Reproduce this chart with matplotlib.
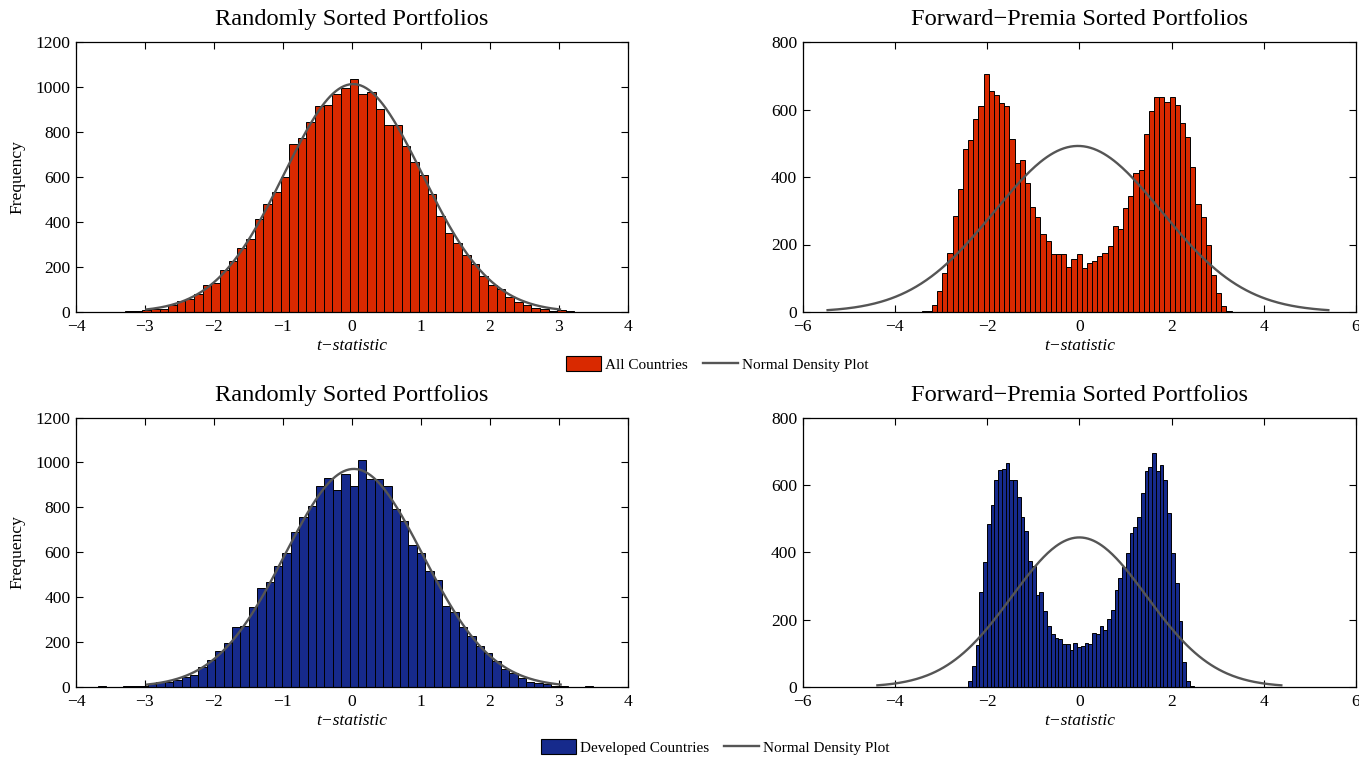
import numpy as np
import matplotlib
matplotlib.use("Agg")
import matplotlib.pyplot as plt
from matplotlib.patches import Patch
from matplotlib.lines import Line2D

plt.rcParams['font.family'] = ['Liberation Serif', 'DejaVu Serif']
plt.rcParams['mathtext.fontset'] = 'stix'

# ---------------- data ----------------
# Top-left: All countries, randomly sorted portfolios
tl_first_edge = -3.917
tl_bin_width = 0.1254
tl_counts = [1, 0, 1, 1, 2, 3,
             6, 7, 12, 15, 33, 50, 59, 81, 119, 130, 188, 228, 286, 323, 412, 479, 533, 600,
             745, 775, 844, 914, 919, 967, 997,
             1037, 970, 978, 904, 833, 833, 736, 668, 610, 526, 428, 353, 307, 252, 213, 160,
             119, 101, 67, 44, 30, 18, 12, 6, 10, 3, 1,
             1, 1, 0]
tl_norm = dict(mu=0.02, sigma=1.0, peak=1013)

# Top-right: All countries, forward-premia sorted portfolios
tr_first_edge = -3.42
tr_bin_width = 0.112
tr_counts = [2, 4, 20, 61, 115, 174, 283, 363, 484, 510, 573, 610, 706, 654, 644, 618, 610, 514,
             442, 450, 383, 311, 281, 232, 211, 173, 173, 172, 133, 158, 171,
             130, 145, 150, 165, 175, 196, 254, 245, 309, 345, 413, 420, 526, 597, 638, 638, 622,
             636, 614, 559, 520, 431, 321, 282, 200, 109, 56, 17, 4]
tr_norm = dict(mu=-0.03, sigma=1.81, peak=492)

# Bottom-left: Developed countries, randomly sorted portfolios
bl_first_edge = -3.807
bl_bin_width = 0.1218
bl_counts = [1, 3, 0, 0, 4, 4, 6, 12, 24, 22, 33, 45, 52, 89, 119, 161, 194, 265, 271, 358,
             439, 466, 539, 596, 688, 757, 807, 897, 931, 876, 950,
             894, 1011, 924, 924, 894, 792, 740, 633, 596, 517, 477, 360, 332, 267, 226, 183,
             153, 116, 80, 64, 40, 24, 19, 12, 6, 4, 1, 0, 3]
bl_norm = dict(mu=0.03, sigma=1.0, peak=971)

# Bottom-right: Developed countries, forward-premia sorted portfolios
br_first_edge = -2.413
br_bin_width = 0.0815
br_counts = [17, 61, 126, 281, 372, 484, 541, 613, 643, 646, 666, 615, 614, 563, 504, 464, 373,
             360, 274, 281, 227, 182, 158, 145, 142, 129, 129, 109, 130, 118,
             123, 130, 128, 160, 157, 180, 168, 203, 229, 289, 323, 356, 399, 457, 476, 506,
             575, 640, 652, 696, 641, 659, 613, 516, 399, 310, 196, 74, 17, 4]
br_norm = dict(mu=0.0, sigma=1.46, peak=444)

title_left = "Randomly Sorted Portfolios"
title_right = "Forward\u2212Premia Sorted Portfolios"
xlabel = "t\u2212statistic"
ylabel = "Frequency"
legend_top = ["All Countries", "Normal Density Plot"]
legend_bottom = ["Developed Countries", "Normal Density Plot"]

red = "#D92900"
blue = "#162A8C"
curve_color = "#555555"

# ---------------- figure ----------------
W, H = 1359, 757
fig = plt.figure(figsize=(W / 100, H / 100), dpi=100)


def px_axes(left, top, right, bottom):
    return fig.add_axes([left / W, 1 - bottom / H, (right - left) / W, (bottom - top) / H])


ax_tl = px_axes(76, 42, 627.5, 312)
ax_tr = px_axes(802.7, 42, 1356, 312)
ax_bl = px_axes(76, 417.5, 627.5, 687)
ax_br = px_axes(802.7, 417.5, 1356, 687)


def draw(ax, first_edge, bw, counts, norm, color, xlim, xticks, ylim, yticks, title, show_ylabel):
    counts = np.asarray(counts, dtype=float)
    left_edges = first_edge + bw * np.arange(len(counts))
    ax.bar(left_edges, counts, width=bw, align='edge', color=color,
           edgecolor='black', linewidth=0.7, zorder=2)
    mu, sg, pk = norm['mu'], norm['sigma'], norm['peak']
    xs = np.linspace(mu - 3 * sg, mu + 3 * sg, 300)
    ax.plot(xs, pk * np.exp(-0.5 * ((xs - mu) / sg) ** 2), color=curve_color, lw=1.7, zorder=3)
    ax.set_xlim(*xlim)
    ax.set_ylim(*ylim)
    ax.set_xticks(xticks)
    ax.set_yticks(yticks)
    ax.tick_params(direction='in', top=True, right=True, length=5, width=0.8,
                   labelsize=12.6)
    ax.tick_params(axis='x', pad=5)
    ax.tick_params(axis='y', pad=4)
    for s in ax.spines.values():
        s.set_linewidth(0.9)
    ax.set_title(title, fontsize=17.6, pad=12)
    ax.set_xlabel(xlabel, fontsize=12.6, style='italic', labelpad=2)
    if show_ylabel:
        ax.set_ylabel(ylabel, fontsize=12.6, labelpad=7)


draw(ax_tl, tl_first_edge, tl_bin_width, tl_counts, tl_norm, red,
     (-4, 4), range(-4, 5), (0, 1200), range(0, 1201, 200), title_left, True)
draw(ax_tr, tr_first_edge, tr_bin_width, tr_counts, tr_norm, red,
     (-6, 6), range(-6, 7, 2), (0, 800), range(0, 801, 200), title_right, False)
draw(ax_bl, bl_first_edge, bl_bin_width, bl_counts, bl_norm, blue,
     (-4, 4), range(-4, 5), (0, 1200), range(0, 1201, 200), title_left, True)
draw(ax_br, br_first_edge, br_bin_width, br_counts, br_norm, blue,
     (-6, 6), range(-6, 7, 2), (0, 800), range(0, 801, 200), title_right, False)


def add_legend(labels, color, cx, cy):
    handles = [Patch(facecolor=color, edgecolor='black', linewidth=0.8),
               Line2D([0], [0], color=curve_color, lw=1.7)]
    fig.legend(handles, labels, loc='center', bbox_to_anchor=(cx / W, 1 - cy / H),
               ncol=2, frameon=False, fontsize=11, handlelength=2.3, handleheight=1.05,
               handletextpad=0.25, columnspacing=1.0)


add_legend(legend_top, red, 717, 364)
add_legend(legend_bottom, blue, 715, 747)

fig.savefig("out.png", dpi=100)
